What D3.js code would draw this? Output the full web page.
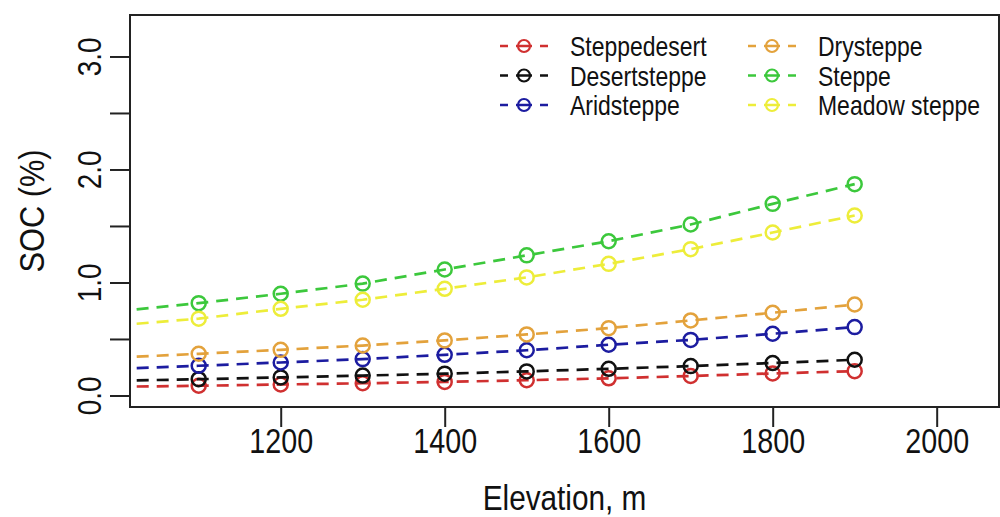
<!DOCTYPE html>
<html>
<head>
<meta charset="utf-8">
<script src="https://cdn.jsdelivr.net/npm/d3@7"></script>
<style>
  html, body { margin: 0; padding: 0; background: #fff; }
  svg { display: block; }
  svg text { font-family: "Liberation Sans", Arial, sans-serif; fill: #111; }
</style>
</head>
<body>
<svg id="chart" width="1000" height="517"></svg>
<script>
// Elevation steps (m) and SOC (%) per steppe type
const elevation = [1000, 1100, 1200, 1300, 1400, 1500, 1600, 1700, 1800, 1900];
const steppedesert = [0.077, 0.086, 0.097, 0.108, 0.120, 0.135, 0.152, 0.172, 0.195, 0.215];
const desertsteppe = [0.130, 0.144, 0.160, 0.176, 0.193, 0.213, 0.236, 0.260, 0.287, 0.316];
const aridsteppe   = [0.235, 0.263, 0.292, 0.322, 0.360, 0.400, 0.449, 0.492, 0.546, 0.605];
const drysteppe    = [0.335, 0.369, 0.404, 0.442, 0.487, 0.540, 0.596, 0.664, 0.732, 0.805];
const steppe       = [0.745, 0.817, 0.900, 0.990, 1.115, 1.240, 1.365, 1.513, 1.696, 1.870];
const meadowSteppe = [0.620, 0.680, 0.767, 0.847, 0.944, 1.045, 1.165, 1.295, 1.442, 1.593];

const seriesNames  = ["Steppedesert", "Desertsteppe", "Aridsteppe", "Drysteppe", "Steppe", "Meadow steppe"];
const seriesValues = [steppedesert, desertsteppe, aridsteppe, drysteppe, steppe, meadowSteppe];
const seriesColors = ["#d03030", "#111111", "#1c1ca0", "#e3a23c", "#3cc83c", "#eded3a"];

const xTicks = [1200, 1400, 1600, 1800, 2000];
const yTicks = [0, 0.5, 1, 1.5, 2, 2.5, 3];
const yTickLabels = ["0.0", "", "1.0", "", "2.0", "", "3.0"];

const plot = { left: 130, right: 999, top: 15, bottom: 407 };
const narrow = 0.82;   // horizontal squeeze giving a condensed face

const svg = d3.select("#chart");

const x = d3.scaleLinear().domain([1016.2, 2076]).range([plot.left, plot.right]);
const y = d3.scaleLinear().domain([-0.102, 3.367]).range([plot.bottom, plot.top]);

svg.append("defs").append("clipPath").attr("id", "plot-clip")
  .append("rect")
  .attr("x", plot.left).attr("y", plot.top)
  .attr("width", plot.right - plot.left).attr("height", plot.bottom - plot.top);

// Series: dashed lines with open circles
const layer = svg.append("g").attr("clip-path", "url(#plot-clip)");
const line = d3.line().x((d, i) => x(elevation[i])).y(d => y(d));

seriesValues.forEach((vals, k) => {
  const g = layer.append("g");
  g.append("path")
    .attr("d", line(vals))
    .attr("fill", "none")
    .attr("stroke", seriesColors[k])
    .attr("stroke-width", 2.7)
    .attr("stroke-dasharray", "12,8");
  g.selectAll("circle").data(vals).join("circle")
    .attr("cx", (d, i) => x(elevation[i]))
    .attr("cy", d => y(d))
    .attr("r", 7)
    .attr("fill", "none")
    .attr("stroke", seriesColors[k])
    .attr("stroke-width", 2.5);
});

// Frame
svg.append("rect")
  .attr("x", plot.left).attr("y", plot.top)
  .attr("width", plot.right - plot.left).attr("height", plot.bottom - plot.top)
  .attr("fill", "none").attr("stroke", "#222").attr("stroke-width", 2);

// X axis
const xAxis = d3.axisBottom(x).tickValues(xTicks).tickSize(20).tickPadding(1)
  .tickFormat(d3.format("d"));
const gx = svg.append("g").attr("transform", `translate(0,${plot.bottom})`).call(xAxis);
gx.select(".domain").remove();
gx.selectAll(".tick line").attr("stroke", "#222").attr("stroke-width", 2);
gx.selectAll(".tick text")
  .attr("font-size", 35).attr("font-family", null)
  .attr("transform", `scale(${narrow},1)`);

// Y axis
const yAxis = d3.axisLeft(y).tickValues(yTicks).tickSize(20).tickPadding(0)
  .tickFormat((d, i) => yTickLabels[i]);
const gy = svg.append("g").attr("transform", `translate(${plot.left},0)`).call(yAxis);
gy.select(".domain").remove();
gy.selectAll(".tick line").attr("stroke", "#222").attr("stroke-width", 2);
gy.selectAll(".tick text")
  .attr("font-size", 34).attr("font-family", null)
  .attr("x", null).attr("dy", null)
  .attr("text-anchor", "middle")
  .attr("transform", `translate(-29,0) rotate(-90) scale(${narrow},1)`);

// Axis titles
svg.append("text")
  .attr("transform", `translate(${(plot.left + plot.right) / 2},510) scale(0.85,1)`)
  .attr("text-anchor", "middle").attr("font-size", 35)
  .text("Elevation, m");
svg.append("text")
  .attr("transform", `translate(44,${(plot.top + plot.bottom) / 2}) rotate(-90) scale(0.88,1)`)
  .attr("text-anchor", "middle").attr("font-size", 35)
  .text("SOC (%)");

// Legend: two columns of three
const legendCols = [{ seg: 500, text: 570 }, { seg: 748, text: 818 }];
const legendRows = [46, 75.5, 105];
seriesNames.forEach((name, k) => {
  const col = legendCols[Math.floor(k / 3)];
  const row = legendRows[k % 3];
  const g = svg.append("g");
  g.append("line")
    .attr("x1", col.seg).attr("x2", col.seg + 48)
    .attr("y1", row).attr("y2", row)
    .attr("stroke", seriesColors[k]).attr("stroke-width", 2.4)
    .attr("stroke-dasharray", "8,8,16,8");
  g.append("circle")
    .attr("cx", col.seg + 24).attr("cy", row).attr("r", 6)
    .attr("fill", "none").attr("stroke", seriesColors[k]).attr("stroke-width", 2.2);
  g.append("text")
    .attr("transform", `translate(${col.text},${row}) scale(${narrow},1)`)
    .attr("dy", "0.36em")
    .attr("font-size", 28)
    .text(name);
});
</script>
</body>
</html>
